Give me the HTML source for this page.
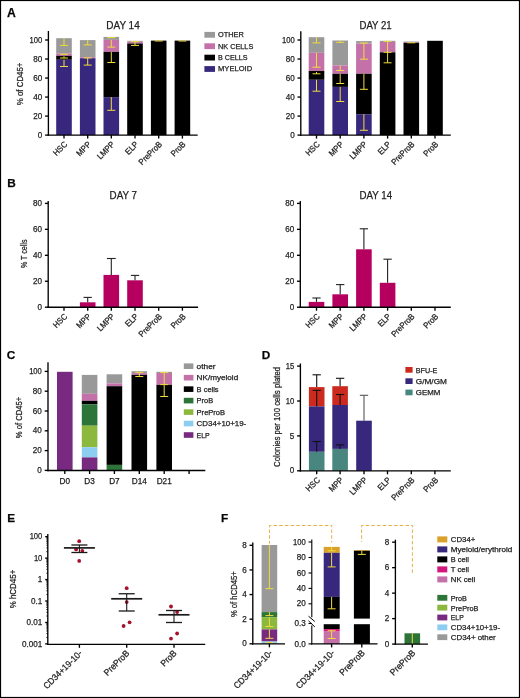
<!DOCTYPE html>
<html><head><meta charset="utf-8"><style>
html,body{margin:0;padding:0;background:#fff;}
body{width:520px;height:698px;overflow:hidden;}
svg{display:block;font-family:"Liberation Sans",sans-serif;will-change:transform;}
text{stroke:#222;stroke-width:0.25px;}
</style></head><body>
<svg width="520" height="698" viewBox="0 0 520 698">
<rect x="0" y="0" width="520" height="698" fill="#fff"/>
<text x="7.00" y="17.00" font-size="12.2" fill="#000" font-weight="bold" >A</text>
<text x="7.20" y="186.90" font-size="11.8" fill="#000" font-weight="bold" >B</text>
<text x="6.80" y="358.80" font-size="11.8" fill="#000" font-weight="bold" >C</text>
<text x="261.80" y="358.80" font-size="11.8" fill="#000" font-weight="bold" >D</text>
<text x="7.20" y="522.30" font-size="11.8" fill="#000" font-weight="bold" >E</text>
<text x="221.00" y="522.20" font-size="11.8" fill="#000" font-weight="bold" >F</text>
<text x="123.00" y="28.60" font-size="10.2" fill="#222" text-anchor="middle" textLength="33.4" lengthAdjust="spacingAndGlyphs" >DAY 14</text>
<rect x="56.20" y="38.20" width="15.60" height="15.40" fill="#999999"/>
<rect x="56.20" y="53.60" width="15.60" height="2.20" fill="#c471aa"/>
<rect x="56.20" y="55.80" width="15.60" height="4.00" fill="#000"/>
<rect x="56.20" y="59.80" width="15.60" height="75.30" fill="#37287e"/>
<line x1="64.00" y1="38.20" x2="64.00" y2="45.40" stroke="#f0dc3c" stroke-width="1.0" />
<line x1="60.00" y1="45.40" x2="68.00" y2="45.40" stroke="#f0dc3c" stroke-width="1.0" />
<line x1="60.00" y1="54.30" x2="68.00" y2="54.30" stroke="#f0dc3c" stroke-width="1.0" />
<line x1="64.00" y1="56.20" x2="64.00" y2="58.00" stroke="#f0dc3c" stroke-width="1.0" />
<line x1="60.00" y1="58.00" x2="68.00" y2="58.00" stroke="#f0dc3c" stroke-width="1.0" />
<line x1="64.00" y1="59.80" x2="64.00" y2="66.50" stroke="#f0dc3c" stroke-width="1.0" />
<line x1="60.00" y1="66.50" x2="68.00" y2="66.50" stroke="#f0dc3c" stroke-width="1.0" />
<rect x="79.90" y="40.10" width="15.60" height="17.10" fill="#999999"/>
<rect x="79.90" y="57.20" width="15.60" height="1.00" fill="#c471aa"/>
<rect x="79.90" y="58.20" width="15.60" height="76.90" fill="#37287e"/>
<line x1="87.70" y1="40.10" x2="87.70" y2="44.90" stroke="#f0dc3c" stroke-width="1.0" />
<line x1="83.70" y1="44.90" x2="91.70" y2="44.90" stroke="#f0dc3c" stroke-width="1.0" />
<line x1="83.70" y1="57.90" x2="91.70" y2="57.90" stroke="#f0dc3c" stroke-width="1.0" />
<line x1="87.70" y1="58.00" x2="87.70" y2="65.10" stroke="#f0dc3c" stroke-width="1.0" />
<line x1="83.70" y1="65.10" x2="91.70" y2="65.10" stroke="#f0dc3c" stroke-width="1.0" />
<rect x="103.50" y="36.90" width="15.60" height="3.00" fill="#999999"/>
<rect x="103.50" y="39.90" width="15.60" height="12.00" fill="#c471aa"/>
<rect x="103.50" y="51.90" width="15.60" height="45.20" fill="#000"/>
<rect x="103.50" y="97.10" width="15.60" height="38.00" fill="#37287e"/>
<line x1="107.30" y1="37.60" x2="115.30" y2="37.60" stroke="#f0dc3c" stroke-width="1.0" />
<line x1="111.30" y1="39.90" x2="111.30" y2="47.10" stroke="#f0dc3c" stroke-width="1.0" />
<line x1="107.30" y1="47.10" x2="115.30" y2="47.10" stroke="#f0dc3c" stroke-width="1.0" />
<line x1="111.30" y1="51.90" x2="111.30" y2="62.50" stroke="#f0dc3c" stroke-width="1.0" />
<line x1="107.30" y1="62.50" x2="115.30" y2="62.50" stroke="#f0dc3c" stroke-width="1.0" />
<line x1="111.30" y1="97.10" x2="111.30" y2="110.30" stroke="#f0dc3c" stroke-width="1.0" />
<line x1="107.30" y1="110.30" x2="115.30" y2="110.30" stroke="#f0dc3c" stroke-width="1.0" />
<rect x="127.20" y="40.80" width="15.60" height="0.90" fill="#999999"/>
<rect x="127.20" y="41.70" width="15.60" height="1.80" fill="#c471aa"/>
<rect x="127.20" y="43.50" width="15.60" height="91.60" fill="#000"/>
<line x1="135.00" y1="41.70" x2="135.00" y2="45.40" stroke="#f0dc3c" stroke-width="1.0" />
<line x1="131.00" y1="45.40" x2="139.00" y2="45.40" stroke="#f0dc3c" stroke-width="1.0" />
<line x1="131.00" y1="41.70" x2="139.00" y2="41.70" stroke="#f0dc3c" stroke-width="1.0" />
<rect x="150.90" y="40.60" width="15.60" height="94.50" fill="#000"/>
<line x1="154.70" y1="41.00" x2="162.70" y2="41.00" stroke="#f0dc3c" stroke-width="1.0" />
<rect x="174.60" y="40.60" width="15.60" height="94.50" fill="#000"/>
<line x1="178.40" y1="41.00" x2="186.40" y2="41.00" stroke="#f0dc3c" stroke-width="1.0" />
<line x1="48.40" y1="31.00" x2="48.40" y2="135.78" stroke="#000" stroke-width="1.35" />
<line x1="45.10" y1="135.10" x2="48.40" y2="135.10" stroke="#000" stroke-width="1.35" />
<text x="42.25" y="137.70" font-size="9.0" fill="#222" text-anchor="end" textLength="4.5" lengthAdjust="spacingAndGlyphs" >0</text>
<line x1="45.10" y1="116.08" x2="48.40" y2="116.08" stroke="#000" stroke-width="1.35" />
<text x="42.25" y="118.68" font-size="9.0" fill="#222" text-anchor="end" textLength="9.01" lengthAdjust="spacingAndGlyphs" >20</text>
<line x1="45.10" y1="97.06" x2="48.40" y2="97.06" stroke="#000" stroke-width="1.35" />
<text x="42.25" y="99.66" font-size="9.0" fill="#222" text-anchor="end" textLength="9.01" lengthAdjust="spacingAndGlyphs" >40</text>
<line x1="45.10" y1="78.04" x2="48.40" y2="78.04" stroke="#000" stroke-width="1.35" />
<text x="42.25" y="80.64" font-size="9.0" fill="#222" text-anchor="end" textLength="9.01" lengthAdjust="spacingAndGlyphs" >60</text>
<line x1="45.10" y1="59.02" x2="48.40" y2="59.02" stroke="#000" stroke-width="1.35" />
<text x="42.25" y="61.62" font-size="9.0" fill="#222" text-anchor="end" textLength="9.01" lengthAdjust="spacingAndGlyphs" >80</text>
<line x1="45.10" y1="40.00" x2="48.40" y2="40.00" stroke="#000" stroke-width="1.35" />
<text x="42.25" y="42.60" font-size="9.0" fill="#222" text-anchor="end" textLength="12.7" lengthAdjust="spacingAndGlyphs" >100</text>
<line x1="47.73" y1="135.10" x2="197.70" y2="135.10" stroke="#000" stroke-width="1.35" />
<line x1="64.00" y1="135.10" x2="64.00" y2="138.60" stroke="#000" stroke-width="1.35" />
<line x1="87.70" y1="135.10" x2="87.70" y2="138.60" stroke="#000" stroke-width="1.35" />
<line x1="111.30" y1="135.10" x2="111.30" y2="138.60" stroke="#000" stroke-width="1.35" />
<line x1="135.00" y1="135.10" x2="135.00" y2="138.60" stroke="#000" stroke-width="1.35" />
<line x1="158.70" y1="135.10" x2="158.70" y2="138.60" stroke="#000" stroke-width="1.35" />
<line x1="182.40" y1="135.10" x2="182.40" y2="138.60" stroke="#000" stroke-width="1.35" />
<text x="67.85" y="144.95" font-size="8.5" fill="#222" text-anchor="end" textLength="16.15" lengthAdjust="spacingAndGlyphs" transform="rotate(-45 67.85 144.95)" >HSC</text>
<text x="91.55" y="144.95" font-size="8.5" fill="#222" text-anchor="end" textLength="16.58" lengthAdjust="spacingAndGlyphs" transform="rotate(-45 91.55 144.95)" >MPP</text>
<text x="115.15" y="144.95" font-size="8.5" fill="#222" text-anchor="end" textLength="20.83" lengthAdjust="spacingAndGlyphs" transform="rotate(-45 115.15 144.95)" >LMPP</text>
<text x="138.85" y="144.95" font-size="8.5" fill="#222" text-anchor="end" textLength="14.46" lengthAdjust="spacingAndGlyphs" transform="rotate(-45 138.85 144.95)" >ELP</text>
<text x="162.55" y="144.95" font-size="8.5" fill="#222" text-anchor="end" textLength="28.91" lengthAdjust="spacingAndGlyphs" transform="rotate(-45 162.55 144.95)" >PreProB</text>
<text x="186.25" y="144.95" font-size="8.5" fill="#222" text-anchor="end" textLength="17.01" lengthAdjust="spacingAndGlyphs" transform="rotate(-45 186.25 144.95)" >ProB</text>
<text x="22.60" y="83.90" font-size="9" fill="#222" text-anchor="middle" textLength="42.6" lengthAdjust="spacingAndGlyphs" transform="rotate(-90 22.60 83.90)" >% of CD45+</text>
<rect x="204.40" y="31.90" width="10.60" height="5.80" fill="#999999"/>
<text x="218.00" y="37.20" font-size="7.5" fill="#222" textLength="25.8" lengthAdjust="spacingAndGlyphs" >OTHER</text>
<rect x="204.40" y="43.30" width="10.60" height="5.80" fill="#c471aa"/>
<text x="218.00" y="48.60" font-size="7.5" fill="#222" textLength="35.3" lengthAdjust="spacingAndGlyphs" >NK CELLS</text>
<rect x="204.40" y="54.70" width="10.60" height="5.80" fill="#000"/>
<text x="218.00" y="60.00" font-size="7.5" fill="#222" textLength="29.6" lengthAdjust="spacingAndGlyphs" >B CELLS</text>
<rect x="204.40" y="66.10" width="10.60" height="5.80" fill="#37287e"/>
<text x="218.00" y="71.40" font-size="7.5" fill="#222" textLength="34.2" lengthAdjust="spacingAndGlyphs" >MYELOID</text>
<text x="375.60" y="28.50" font-size="10.2" fill="#222" text-anchor="middle" textLength="32.2" lengthAdjust="spacingAndGlyphs" >DAY 21</text>
<rect x="308.70" y="37.20" width="15.60" height="15.60" fill="#999999"/>
<rect x="308.70" y="52.80" width="15.60" height="18.20" fill="#c471aa"/>
<rect x="308.70" y="71.00" width="15.60" height="8.80" fill="#000"/>
<rect x="308.70" y="79.80" width="15.60" height="55.30" fill="#37287e"/>
<line x1="316.50" y1="37.20" x2="316.50" y2="42.90" stroke="#f0dc3c" stroke-width="1.0" />
<line x1="312.50" y1="42.90" x2="320.50" y2="42.90" stroke="#f0dc3c" stroke-width="1.0" />
<line x1="316.50" y1="52.80" x2="316.50" y2="67.20" stroke="#f0dc3c" stroke-width="1.0" />
<line x1="312.50" y1="67.20" x2="320.50" y2="67.20" stroke="#f0dc3c" stroke-width="1.0" />
<line x1="316.50" y1="72.00" x2="316.50" y2="73.80" stroke="#f0dc3c" stroke-width="1.0" />
<line x1="312.50" y1="73.80" x2="320.50" y2="73.80" stroke="#f0dc3c" stroke-width="1.0" />
<line x1="316.50" y1="79.80" x2="316.50" y2="91.20" stroke="#f0dc3c" stroke-width="1.0" />
<line x1="312.50" y1="91.20" x2="320.50" y2="91.20" stroke="#f0dc3c" stroke-width="1.0" />
<rect x="332.40" y="40.50" width="15.60" height="24.90" fill="#999999"/>
<rect x="332.40" y="65.40" width="15.60" height="8.40" fill="#c471aa"/>
<rect x="332.40" y="73.80" width="15.60" height="13.10" fill="#000"/>
<rect x="332.40" y="86.90" width="15.60" height="48.20" fill="#37287e"/>
<line x1="340.20" y1="40.50" x2="340.20" y2="42.30" stroke="#f0dc3c" stroke-width="1.0" />
<line x1="336.20" y1="42.30" x2="344.20" y2="42.30" stroke="#f0dc3c" stroke-width="1.0" />
<line x1="340.20" y1="65.40" x2="340.20" y2="70.50" stroke="#f0dc3c" stroke-width="1.0" />
<line x1="336.20" y1="70.50" x2="344.20" y2="70.50" stroke="#f0dc3c" stroke-width="1.0" />
<line x1="340.20" y1="73.80" x2="340.20" y2="83.50" stroke="#f0dc3c" stroke-width="1.0" />
<line x1="336.20" y1="83.50" x2="344.20" y2="83.50" stroke="#f0dc3c" stroke-width="1.0" />
<line x1="340.20" y1="86.90" x2="340.20" y2="101.50" stroke="#f0dc3c" stroke-width="1.0" />
<line x1="336.20" y1="101.50" x2="344.20" y2="101.50" stroke="#f0dc3c" stroke-width="1.0" />
<rect x="356.10" y="41.10" width="15.60" height="2.40" fill="#999999"/>
<rect x="356.10" y="43.50" width="15.60" height="30.30" fill="#c471aa"/>
<rect x="356.10" y="73.80" width="15.60" height="40.40" fill="#000"/>
<rect x="356.10" y="114.20" width="15.60" height="20.90" fill="#37287e"/>
<line x1="359.90" y1="43.00" x2="367.90" y2="43.00" stroke="#f0dc3c" stroke-width="1.0" />
<line x1="363.90" y1="43.00" x2="363.90" y2="59.20" stroke="#f0dc3c" stroke-width="1.0" />
<line x1="359.90" y1="59.20" x2="367.90" y2="59.20" stroke="#f0dc3c" stroke-width="1.0" />
<line x1="363.90" y1="73.80" x2="363.90" y2="89.30" stroke="#f0dc3c" stroke-width="1.0" />
<line x1="359.90" y1="89.30" x2="367.90" y2="89.30" stroke="#f0dc3c" stroke-width="1.0" />
<line x1="363.90" y1="114.20" x2="363.90" y2="130.30" stroke="#f0dc3c" stroke-width="1.0" />
<line x1="359.90" y1="130.30" x2="367.90" y2="130.30" stroke="#f0dc3c" stroke-width="1.0" />
<rect x="379.80" y="40.80" width="15.60" height="1.20" fill="#999999"/>
<rect x="379.80" y="42.00" width="15.60" height="10.30" fill="#c471aa"/>
<rect x="379.80" y="52.30" width="15.60" height="82.80" fill="#000"/>
<line x1="383.60" y1="41.30" x2="391.60" y2="41.30" stroke="#f0dc3c" stroke-width="1.0" />
<line x1="387.60" y1="41.30" x2="387.60" y2="52.30" stroke="#f0dc3c" stroke-width="1.0" />
<line x1="383.60" y1="52.30" x2="391.60" y2="52.30" stroke="#f0dc3c" stroke-width="1.0" />
<line x1="387.60" y1="52.30" x2="387.60" y2="62.80" stroke="#f0dc3c" stroke-width="1.0" />
<line x1="383.60" y1="62.80" x2="391.60" y2="62.80" stroke="#f0dc3c" stroke-width="1.0" />
<rect x="403.50" y="41.50" width="15.60" height="0.70" fill="#999999"/>
<rect x="403.50" y="42.20" width="15.60" height="0.60" fill="#c471aa"/>
<rect x="403.50" y="42.80" width="15.60" height="92.30" fill="#000"/>
<line x1="407.30" y1="42.80" x2="415.30" y2="42.80" stroke="#f0dc3c" stroke-width="1.0" />
<rect x="427.20" y="40.80" width="15.60" height="94.30" fill="#000"/>
<line x1="300.80" y1="31.20" x2="300.80" y2="135.78" stroke="#000" stroke-width="1.35" />
<line x1="297.50" y1="135.10" x2="300.80" y2="135.10" stroke="#000" stroke-width="1.35" />
<text x="294.65" y="137.70" font-size="9.0" fill="#222" text-anchor="end" textLength="4.5" lengthAdjust="spacingAndGlyphs" >0</text>
<line x1="297.50" y1="116.08" x2="300.80" y2="116.08" stroke="#000" stroke-width="1.35" />
<text x="294.65" y="118.68" font-size="9.0" fill="#222" text-anchor="end" textLength="9.01" lengthAdjust="spacingAndGlyphs" >20</text>
<line x1="297.50" y1="97.06" x2="300.80" y2="97.06" stroke="#000" stroke-width="1.35" />
<text x="294.65" y="99.66" font-size="9.0" fill="#222" text-anchor="end" textLength="9.01" lengthAdjust="spacingAndGlyphs" >40</text>
<line x1="297.50" y1="78.04" x2="300.80" y2="78.04" stroke="#000" stroke-width="1.35" />
<text x="294.65" y="80.64" font-size="9.0" fill="#222" text-anchor="end" textLength="9.01" lengthAdjust="spacingAndGlyphs" >60</text>
<line x1="297.50" y1="59.02" x2="300.80" y2="59.02" stroke="#000" stroke-width="1.35" />
<text x="294.65" y="61.62" font-size="9.0" fill="#222" text-anchor="end" textLength="9.01" lengthAdjust="spacingAndGlyphs" >80</text>
<line x1="297.50" y1="40.00" x2="300.80" y2="40.00" stroke="#000" stroke-width="1.35" />
<text x="294.65" y="42.60" font-size="9.0" fill="#222" text-anchor="end" textLength="12.7" lengthAdjust="spacingAndGlyphs" >100</text>
<line x1="300.12" y1="135.10" x2="450.80" y2="135.10" stroke="#000" stroke-width="1.35" />
<line x1="316.50" y1="135.10" x2="316.50" y2="138.60" stroke="#000" stroke-width="1.35" />
<line x1="340.20" y1="135.10" x2="340.20" y2="138.60" stroke="#000" stroke-width="1.35" />
<line x1="363.90" y1="135.10" x2="363.90" y2="138.60" stroke="#000" stroke-width="1.35" />
<line x1="387.60" y1="135.10" x2="387.60" y2="138.60" stroke="#000" stroke-width="1.35" />
<line x1="411.30" y1="135.10" x2="411.30" y2="138.60" stroke="#000" stroke-width="1.35" />
<line x1="435.00" y1="135.10" x2="435.00" y2="138.60" stroke="#000" stroke-width="1.35" />
<text x="320.35" y="144.95" font-size="8.5" fill="#222" text-anchor="end" textLength="16.15" lengthAdjust="spacingAndGlyphs" transform="rotate(-45 320.35 144.95)" >HSC</text>
<text x="344.05" y="144.95" font-size="8.5" fill="#222" text-anchor="end" textLength="16.58" lengthAdjust="spacingAndGlyphs" transform="rotate(-45 344.05 144.95)" >MPP</text>
<text x="367.75" y="144.95" font-size="8.5" fill="#222" text-anchor="end" textLength="20.83" lengthAdjust="spacingAndGlyphs" transform="rotate(-45 367.75 144.95)" >LMPP</text>
<text x="391.45" y="144.95" font-size="8.5" fill="#222" text-anchor="end" textLength="14.46" lengthAdjust="spacingAndGlyphs" transform="rotate(-45 391.45 144.95)" >ELP</text>
<text x="415.15" y="144.95" font-size="8.5" fill="#222" text-anchor="end" textLength="28.91" lengthAdjust="spacingAndGlyphs" transform="rotate(-45 415.15 144.95)" >PreProB</text>
<text x="438.85" y="144.95" font-size="8.5" fill="#222" text-anchor="end" textLength="17.01" lengthAdjust="spacingAndGlyphs" transform="rotate(-45 438.85 144.95)" >ProB</text>
<text x="123.30" y="198.50" font-size="10.2" fill="#222" text-anchor="middle" textLength="27.4" lengthAdjust="spacingAndGlyphs" >DAY 7</text>
<text x="375.80" y="198.50" font-size="10.2" fill="#222" text-anchor="middle" textLength="32.6" lengthAdjust="spacingAndGlyphs" >DAY 14</text>
<rect x="79.90" y="302.30" width="15.60" height="4.90" fill="#b60060"/>
<line x1="87.70" y1="302.30" x2="87.70" y2="297.40" stroke="#222" stroke-width="1.1" />
<line x1="83.55" y1="297.40" x2="91.85" y2="297.40" stroke="#222" stroke-width="1.1" />
<rect x="103.50" y="274.90" width="15.60" height="32.30" fill="#b60060"/>
<line x1="111.30" y1="274.90" x2="111.30" y2="258.50" stroke="#222" stroke-width="1.1" />
<line x1="106.90" y1="258.50" x2="115.70" y2="258.50" stroke="#222" stroke-width="1.1" />
<rect x="127.20" y="280.30" width="15.60" height="26.90" fill="#b60060"/>
<line x1="135.00" y1="280.30" x2="135.00" y2="275.40" stroke="#222" stroke-width="1.1" />
<line x1="130.85" y1="275.40" x2="139.15" y2="275.40" stroke="#222" stroke-width="1.1" />
<line x1="48.20" y1="201.00" x2="48.20" y2="307.88" stroke="#000" stroke-width="1.35" />
<line x1="44.90" y1="307.20" x2="48.20" y2="307.20" stroke="#000" stroke-width="1.35" />
<text x="42.05" y="309.80" font-size="9.0" fill="#222" text-anchor="end" textLength="4.5" lengthAdjust="spacingAndGlyphs" >0</text>
<line x1="44.90" y1="281.25" x2="48.20" y2="281.25" stroke="#000" stroke-width="1.35" />
<text x="42.05" y="283.85" font-size="9.0" fill="#222" text-anchor="end" textLength="9.01" lengthAdjust="spacingAndGlyphs" >20</text>
<line x1="44.90" y1="255.30" x2="48.20" y2="255.30" stroke="#000" stroke-width="1.35" />
<text x="42.05" y="257.90" font-size="9.0" fill="#222" text-anchor="end" textLength="9.01" lengthAdjust="spacingAndGlyphs" >40</text>
<line x1="44.90" y1="229.35" x2="48.20" y2="229.35" stroke="#000" stroke-width="1.35" />
<text x="42.05" y="231.95" font-size="9.0" fill="#222" text-anchor="end" textLength="9.01" lengthAdjust="spacingAndGlyphs" >60</text>
<line x1="44.90" y1="203.40" x2="48.20" y2="203.40" stroke="#000" stroke-width="1.35" />
<text x="42.05" y="206.00" font-size="9.0" fill="#222" text-anchor="end" textLength="9.01" lengthAdjust="spacingAndGlyphs" >80</text>
<line x1="47.53" y1="307.20" x2="198.10" y2="307.20" stroke="#000" stroke-width="1.35" />
<line x1="64.00" y1="307.20" x2="64.00" y2="310.70" stroke="#000" stroke-width="1.35" />
<line x1="87.70" y1="307.20" x2="87.70" y2="310.70" stroke="#000" stroke-width="1.35" />
<line x1="111.30" y1="307.20" x2="111.30" y2="310.70" stroke="#000" stroke-width="1.35" />
<line x1="135.00" y1="307.20" x2="135.00" y2="310.70" stroke="#000" stroke-width="1.35" />
<line x1="158.70" y1="307.20" x2="158.70" y2="310.70" stroke="#000" stroke-width="1.35" />
<line x1="182.40" y1="307.20" x2="182.40" y2="310.70" stroke="#000" stroke-width="1.35" />
<text x="67.85" y="317.05" font-size="8.5" fill="#222" text-anchor="end" textLength="16.15" lengthAdjust="spacingAndGlyphs" transform="rotate(-45 67.85 317.05)" >HSC</text>
<text x="91.55" y="317.05" font-size="8.5" fill="#222" text-anchor="end" textLength="16.58" lengthAdjust="spacingAndGlyphs" transform="rotate(-45 91.55 317.05)" >MPP</text>
<text x="115.15" y="317.05" font-size="8.5" fill="#222" text-anchor="end" textLength="20.83" lengthAdjust="spacingAndGlyphs" transform="rotate(-45 115.15 317.05)" >LMPP</text>
<text x="138.85" y="317.05" font-size="8.5" fill="#222" text-anchor="end" textLength="14.46" lengthAdjust="spacingAndGlyphs" transform="rotate(-45 138.85 317.05)" >ELP</text>
<text x="162.55" y="317.05" font-size="8.5" fill="#222" text-anchor="end" textLength="28.91" lengthAdjust="spacingAndGlyphs" transform="rotate(-45 162.55 317.05)" >PreProB</text>
<text x="186.25" y="317.05" font-size="8.5" fill="#222" text-anchor="end" textLength="17.01" lengthAdjust="spacingAndGlyphs" transform="rotate(-45 186.25 317.05)" >ProB</text>
<text x="26.90" y="253.80" font-size="9" fill="#222" text-anchor="middle" textLength="28.5" lengthAdjust="spacingAndGlyphs" transform="rotate(-90 26.90 253.80)" >% T cells</text>
<rect x="308.70" y="301.90" width="15.60" height="5.30" fill="#b60060"/>
<line x1="316.50" y1="301.90" x2="316.50" y2="298.00" stroke="#222" stroke-width="1.1" />
<line x1="312.35" y1="298.00" x2="320.65" y2="298.00" stroke="#222" stroke-width="1.1" />
<rect x="332.40" y="294.30" width="15.60" height="12.90" fill="#b60060"/>
<line x1="340.20" y1="294.30" x2="340.20" y2="284.60" stroke="#222" stroke-width="1.1" />
<line x1="336.05" y1="284.60" x2="344.35" y2="284.60" stroke="#222" stroke-width="1.1" />
<rect x="356.10" y="249.30" width="15.60" height="57.90" fill="#b60060"/>
<line x1="363.90" y1="249.30" x2="363.90" y2="228.80" stroke="#222" stroke-width="1.1" />
<line x1="359.75" y1="228.80" x2="368.05" y2="228.80" stroke="#222" stroke-width="1.1" />
<rect x="379.80" y="282.80" width="15.60" height="24.40" fill="#b60060"/>
<line x1="387.60" y1="282.80" x2="387.60" y2="259.20" stroke="#222" stroke-width="1.1" />
<line x1="383.45" y1="259.20" x2="391.75" y2="259.20" stroke="#222" stroke-width="1.1" />
<line x1="300.30" y1="201.00" x2="300.30" y2="307.88" stroke="#000" stroke-width="1.35" />
<line x1="297.00" y1="307.20" x2="300.30" y2="307.20" stroke="#000" stroke-width="1.35" />
<text x="294.15" y="309.80" font-size="9.0" fill="#222" text-anchor="end" textLength="4.5" lengthAdjust="spacingAndGlyphs" >0</text>
<line x1="297.00" y1="281.25" x2="300.30" y2="281.25" stroke="#000" stroke-width="1.35" />
<text x="294.15" y="283.85" font-size="9.0" fill="#222" text-anchor="end" textLength="9.01" lengthAdjust="spacingAndGlyphs" >20</text>
<line x1="297.00" y1="255.30" x2="300.30" y2="255.30" stroke="#000" stroke-width="1.35" />
<text x="294.15" y="257.90" font-size="9.0" fill="#222" text-anchor="end" textLength="9.01" lengthAdjust="spacingAndGlyphs" >40</text>
<line x1="297.00" y1="229.35" x2="300.30" y2="229.35" stroke="#000" stroke-width="1.35" />
<text x="294.15" y="231.95" font-size="9.0" fill="#222" text-anchor="end" textLength="9.01" lengthAdjust="spacingAndGlyphs" >60</text>
<line x1="297.00" y1="203.40" x2="300.30" y2="203.40" stroke="#000" stroke-width="1.35" />
<text x="294.15" y="206.00" font-size="9.0" fill="#222" text-anchor="end" textLength="9.01" lengthAdjust="spacingAndGlyphs" >80</text>
<line x1="299.62" y1="307.20" x2="450.80" y2="307.20" stroke="#000" stroke-width="1.35" />
<line x1="316.50" y1="307.20" x2="316.50" y2="310.70" stroke="#000" stroke-width="1.35" />
<line x1="340.20" y1="307.20" x2="340.20" y2="310.70" stroke="#000" stroke-width="1.35" />
<line x1="363.90" y1="307.20" x2="363.90" y2="310.70" stroke="#000" stroke-width="1.35" />
<line x1="387.60" y1="307.20" x2="387.60" y2="310.70" stroke="#000" stroke-width="1.35" />
<line x1="411.30" y1="307.20" x2="411.30" y2="310.70" stroke="#000" stroke-width="1.35" />
<line x1="435.00" y1="307.20" x2="435.00" y2="310.70" stroke="#000" stroke-width="1.35" />
<text x="320.35" y="317.05" font-size="8.5" fill="#222" text-anchor="end" textLength="16.15" lengthAdjust="spacingAndGlyphs" transform="rotate(-45 320.35 317.05)" >HSC</text>
<text x="344.05" y="317.05" font-size="8.5" fill="#222" text-anchor="end" textLength="16.58" lengthAdjust="spacingAndGlyphs" transform="rotate(-45 344.05 317.05)" >MPP</text>
<text x="367.75" y="317.05" font-size="8.5" fill="#222" text-anchor="end" textLength="20.83" lengthAdjust="spacingAndGlyphs" transform="rotate(-45 367.75 317.05)" >LMPP</text>
<text x="391.45" y="317.05" font-size="8.5" fill="#222" text-anchor="end" textLength="14.46" lengthAdjust="spacingAndGlyphs" transform="rotate(-45 391.45 317.05)" >ELP</text>
<text x="415.15" y="317.05" font-size="8.5" fill="#222" text-anchor="end" textLength="28.91" lengthAdjust="spacingAndGlyphs" transform="rotate(-45 415.15 317.05)" >PreProB</text>
<text x="438.85" y="317.05" font-size="8.5" fill="#222" text-anchor="end" textLength="17.01" lengthAdjust="spacingAndGlyphs" transform="rotate(-45 438.85 317.05)" >ProB</text>
<rect x="57.00" y="371.80" width="15.60" height="98.70" fill="#772a80"/>
<rect x="81.80" y="374.90" width="15.60" height="18.90" fill="#999999"/>
<rect x="81.80" y="393.80" width="15.60" height="7.00" fill="#c471aa"/>
<rect x="81.80" y="400.80" width="15.60" height="3.50" fill="#000"/>
<rect x="81.80" y="404.30" width="15.60" height="21.40" fill="#2c7437"/>
<rect x="81.80" y="425.70" width="15.60" height="21.50" fill="#8cb83e"/>
<rect x="81.80" y="447.20" width="15.60" height="10.20" fill="#8ecdf2"/>
<rect x="81.80" y="457.40" width="15.60" height="13.10" fill="#772a80"/>
<rect x="106.60" y="374.30" width="15.60" height="9.10" fill="#999999"/>
<rect x="106.60" y="383.40" width="15.60" height="2.80" fill="#c471aa"/>
<rect x="106.60" y="386.20" width="15.60" height="78.70" fill="#000"/>
<rect x="106.60" y="464.90" width="15.60" height="5.60" fill="#2c7437"/>
<rect x="131.50" y="371.20" width="15.60" height="1.90" fill="#999999"/>
<rect x="131.50" y="373.10" width="15.60" height="1.80" fill="#c471aa"/>
<rect x="131.50" y="374.90" width="15.60" height="95.60" fill="#000"/>
<line x1="139.30" y1="372.30" x2="139.30" y2="376.50" stroke="#f0dc3c" stroke-width="1.0" />
<line x1="135.30" y1="376.50" x2="143.30" y2="376.50" stroke="#f0dc3c" stroke-width="1.0" />
<line x1="135.30" y1="372.30" x2="143.30" y2="372.30" stroke="#f0dc3c" stroke-width="1.0" />
<rect x="156.40" y="371.80" width="15.60" height="1.20" fill="#999999"/>
<rect x="156.40" y="373.00" width="15.60" height="11.90" fill="#c471aa"/>
<rect x="156.40" y="384.90" width="15.60" height="85.60" fill="#000"/>
<line x1="160.20" y1="372.60" x2="168.20" y2="372.60" stroke="#f0dc3c" stroke-width="1.0" />
<line x1="164.20" y1="372.60" x2="164.20" y2="384.60" stroke="#f0dc3c" stroke-width="1.0" />
<line x1="160.20" y1="384.60" x2="168.20" y2="384.60" stroke="#f0dc3c" stroke-width="1.0" />
<line x1="164.20" y1="384.60" x2="164.20" y2="396.50" stroke="#f0dc3c" stroke-width="1.0" />
<line x1="160.20" y1="396.50" x2="168.20" y2="396.50" stroke="#f0dc3c" stroke-width="1.0" />
<line x1="48.00" y1="362.20" x2="48.00" y2="471.18" stroke="#000" stroke-width="1.35" />
<line x1="44.70" y1="470.40" x2="48.00" y2="470.40" stroke="#000" stroke-width="1.35" />
<text x="41.85" y="473.00" font-size="9.0" fill="#222" text-anchor="end" textLength="4.5" lengthAdjust="spacingAndGlyphs" >0</text>
<line x1="44.70" y1="450.60" x2="48.00" y2="450.60" stroke="#000" stroke-width="1.35" />
<text x="41.85" y="453.20" font-size="9.0" fill="#222" text-anchor="end" textLength="9.01" lengthAdjust="spacingAndGlyphs" >20</text>
<line x1="44.70" y1="430.80" x2="48.00" y2="430.80" stroke="#000" stroke-width="1.35" />
<text x="41.85" y="433.40" font-size="9.0" fill="#222" text-anchor="end" textLength="9.01" lengthAdjust="spacingAndGlyphs" >40</text>
<line x1="44.70" y1="411.00" x2="48.00" y2="411.00" stroke="#000" stroke-width="1.35" />
<text x="41.85" y="413.60" font-size="9.0" fill="#222" text-anchor="end" textLength="9.01" lengthAdjust="spacingAndGlyphs" >60</text>
<line x1="44.70" y1="391.20" x2="48.00" y2="391.20" stroke="#000" stroke-width="1.35" />
<text x="41.85" y="393.80" font-size="9.0" fill="#222" text-anchor="end" textLength="9.01" lengthAdjust="spacingAndGlyphs" >80</text>
<line x1="44.70" y1="371.40" x2="48.00" y2="371.40" stroke="#000" stroke-width="1.35" />
<text x="41.85" y="374.00" font-size="9.0" fill="#222" text-anchor="end" textLength="12.7" lengthAdjust="spacingAndGlyphs" >100</text>
<line x1="47.33" y1="470.50" x2="205.30" y2="470.50" stroke="#000" stroke-width="1.35" />
<line x1="64.80" y1="470.50" x2="64.80" y2="474.00" stroke="#000" stroke-width="1.35" />
<line x1="89.60" y1="470.50" x2="89.60" y2="474.00" stroke="#000" stroke-width="1.35" />
<line x1="114.40" y1="470.50" x2="114.40" y2="474.00" stroke="#000" stroke-width="1.35" />
<line x1="139.30" y1="470.50" x2="139.30" y2="474.00" stroke="#000" stroke-width="1.35" />
<line x1="164.20" y1="470.50" x2="164.20" y2="474.00" stroke="#000" stroke-width="1.35" />
<line x1="189.10" y1="470.50" x2="189.10" y2="474.00" stroke="#000" stroke-width="1.35" />
<text x="64.80" y="484.10" font-size="8.2" fill="#222" text-anchor="middle" >D0</text>
<text x="89.60" y="484.10" font-size="8.2" fill="#222" text-anchor="middle" >D3</text>
<text x="114.40" y="484.10" font-size="8.2" fill="#222" text-anchor="middle" >D7</text>
<text x="139.30" y="484.10" font-size="8.2" fill="#222" text-anchor="middle" >D14</text>
<text x="164.20" y="484.10" font-size="8.2" fill="#222" text-anchor="middle" >D21</text>
<text x="22.40" y="417.50" font-size="9" fill="#222" text-anchor="middle" textLength="41.4" lengthAdjust="spacingAndGlyphs" transform="rotate(-90 22.40 417.50)" >% of CD45+</text>
<rect x="183.80" y="363.40" width="9.60" height="5.60" fill="#999999"/>
<text x="196.60" y="369.00" font-size="7.5" fill="#222" textLength="19.0" lengthAdjust="spacingAndGlyphs" >other</text>
<rect x="183.80" y="374.87" width="9.60" height="5.60" fill="#c471aa"/>
<text x="196.60" y="380.47" font-size="7.5" fill="#222" textLength="41.6" lengthAdjust="spacingAndGlyphs" >NK/myeloid</text>
<rect x="183.80" y="386.34" width="9.60" height="5.60" fill="#000"/>
<text x="196.60" y="391.94" font-size="7.5" fill="#222" textLength="22.0" lengthAdjust="spacingAndGlyphs" >B cells</text>
<rect x="183.80" y="397.81" width="9.60" height="5.60" fill="#2c7437"/>
<text x="196.60" y="403.41" font-size="7.5" fill="#222" textLength="16.5" lengthAdjust="spacingAndGlyphs" >ProB</text>
<rect x="183.80" y="409.28" width="9.60" height="5.60" fill="#8cb83e"/>
<text x="196.60" y="414.88" font-size="7.5" fill="#222" textLength="28.5" lengthAdjust="spacingAndGlyphs" >PreProB</text>
<rect x="183.80" y="420.75" width="9.60" height="5.60" fill="#8ecdf2"/>
<text x="196.60" y="426.35" font-size="7.5" fill="#222" textLength="49.6" lengthAdjust="spacingAndGlyphs" >CD34+10+19-</text>
<rect x="183.80" y="432.22" width="9.60" height="5.60" fill="#772a80"/>
<text x="196.60" y="437.82" font-size="7.5" fill="#222" textLength="13.1" lengthAdjust="spacingAndGlyphs" >ELP</text>
<rect x="308.90" y="387.10" width="15.60" height="19.30" fill="#cc2a1e"/>
<rect x="308.90" y="406.40" width="15.60" height="45.40" fill="#37287e"/>
<rect x="308.90" y="451.80" width="15.60" height="19.00" fill="#48867f"/>
<line x1="316.70" y1="387.10" x2="316.70" y2="374.80" stroke="#111" stroke-width="1.1" />
<line x1="312.55" y1="374.80" x2="320.85" y2="374.80" stroke="#111" stroke-width="1.1" />
<line x1="316.70" y1="406.40" x2="316.70" y2="390.40" stroke="#111" stroke-width="1.1" />
<line x1="312.55" y1="390.40" x2="320.85" y2="390.40" stroke="#111" stroke-width="1.1" />
<line x1="316.70" y1="451.80" x2="316.70" y2="441.50" stroke="#111" stroke-width="1.1" />
<line x1="312.55" y1="441.50" x2="320.85" y2="441.50" stroke="#111" stroke-width="1.1" />
<rect x="332.30" y="386.20" width="15.60" height="18.80" fill="#cc2a1e"/>
<rect x="332.30" y="405.00" width="15.60" height="43.90" fill="#37287e"/>
<rect x="332.30" y="448.90" width="15.60" height="21.90" fill="#48867f"/>
<line x1="340.10" y1="386.20" x2="340.10" y2="378.30" stroke="#111" stroke-width="1.1" />
<line x1="335.95" y1="378.30" x2="344.25" y2="378.30" stroke="#111" stroke-width="1.1" />
<line x1="340.10" y1="405.00" x2="340.10" y2="394.50" stroke="#111" stroke-width="1.1" />
<line x1="335.95" y1="394.50" x2="344.25" y2="394.50" stroke="#111" stroke-width="1.1" />
<line x1="340.10" y1="448.90" x2="340.10" y2="444.90" stroke="#111" stroke-width="1.1" />
<line x1="335.95" y1="444.90" x2="344.25" y2="444.90" stroke="#111" stroke-width="1.1" />
<rect x="356.20" y="420.70" width="15.60" height="50.10" fill="#37287e"/>
<line x1="364.00" y1="420.70" x2="364.00" y2="395.30" stroke="#555" stroke-width="1.1" />
<line x1="359.85" y1="395.30" x2="368.15" y2="395.30" stroke="#555" stroke-width="1.1" />
<line x1="300.40" y1="363.50" x2="300.40" y2="471.48" stroke="#000" stroke-width="1.35" />
<line x1="297.10" y1="470.80" x2="300.40" y2="470.80" stroke="#000" stroke-width="1.35" />
<text x="294.25" y="473.40" font-size="9.0" fill="#222" text-anchor="end" textLength="4.5" lengthAdjust="spacingAndGlyphs" >0</text>
<line x1="297.10" y1="435.90" x2="300.40" y2="435.90" stroke="#000" stroke-width="1.35" />
<text x="294.25" y="438.50" font-size="9.0" fill="#222" text-anchor="end" textLength="4.5" lengthAdjust="spacingAndGlyphs" >5</text>
<line x1="297.10" y1="401.00" x2="300.40" y2="401.00" stroke="#000" stroke-width="1.35" />
<text x="294.25" y="403.60" font-size="9.0" fill="#222" text-anchor="end" textLength="8.47" lengthAdjust="spacingAndGlyphs" >10</text>
<line x1="297.10" y1="366.10" x2="300.40" y2="366.10" stroke="#000" stroke-width="1.35" />
<text x="294.25" y="368.70" font-size="9.0" fill="#222" text-anchor="end" textLength="8.47" lengthAdjust="spacingAndGlyphs" >15</text>
<line x1="299.72" y1="470.80" x2="450.80" y2="470.80" stroke="#000" stroke-width="1.35" />
<line x1="316.70" y1="470.80" x2="316.70" y2="474.30" stroke="#000" stroke-width="1.35" />
<line x1="340.10" y1="470.80" x2="340.10" y2="474.30" stroke="#000" stroke-width="1.35" />
<line x1="364.00" y1="470.80" x2="364.00" y2="474.30" stroke="#000" stroke-width="1.35" />
<line x1="387.50" y1="470.80" x2="387.50" y2="474.30" stroke="#000" stroke-width="1.35" />
<line x1="411.30" y1="470.80" x2="411.30" y2="474.30" stroke="#000" stroke-width="1.35" />
<line x1="434.90" y1="470.80" x2="434.90" y2="474.30" stroke="#000" stroke-width="1.35" />
<text x="320.55" y="480.65" font-size="8.5" fill="#222" text-anchor="end" textLength="16.15" lengthAdjust="spacingAndGlyphs" transform="rotate(-45 320.55 480.65)" >HSC</text>
<text x="343.95" y="480.65" font-size="8.5" fill="#222" text-anchor="end" textLength="16.58" lengthAdjust="spacingAndGlyphs" transform="rotate(-45 343.95 480.65)" >MPP</text>
<text x="367.85" y="480.65" font-size="8.5" fill="#222" text-anchor="end" textLength="20.83" lengthAdjust="spacingAndGlyphs" transform="rotate(-45 367.85 480.65)" >LMPP</text>
<text x="391.35" y="480.65" font-size="8.5" fill="#222" text-anchor="end" textLength="14.46" lengthAdjust="spacingAndGlyphs" transform="rotate(-45 391.35 480.65)" >ELP</text>
<text x="415.15" y="480.65" font-size="8.5" fill="#222" text-anchor="end" textLength="28.91" lengthAdjust="spacingAndGlyphs" transform="rotate(-45 415.15 480.65)" >PreProB</text>
<text x="438.75" y="480.65" font-size="8.5" fill="#222" text-anchor="end" textLength="17.01" lengthAdjust="spacingAndGlyphs" transform="rotate(-45 438.75 480.65)" >ProB</text>
<text x="279.80" y="416.90" font-size="9.5" fill="#222" text-anchor="middle" textLength="100" lengthAdjust="spacingAndGlyphs" transform="rotate(-90 279.80 416.90)" >Colonies per 100 cells plated</text>
<rect x="405.40" y="367.00" width="7.20" height="5.70" fill="#cc2a1e"/>
<text x="415.80" y="372.60" font-size="7.5" fill="#222" textLength="21.6" lengthAdjust="spacingAndGlyphs" >BFU-E</text>
<rect x="405.40" y="378.30" width="7.20" height="5.70" fill="#37287e"/>
<text x="415.80" y="383.90" font-size="7.5" fill="#222" textLength="31.1" lengthAdjust="spacingAndGlyphs" >G/M/GM</text>
<rect x="405.40" y="389.60" width="7.20" height="5.70" fill="#48867f"/>
<text x="415.80" y="395.20" font-size="7.5" fill="#222" textLength="24.5" lengthAdjust="spacingAndGlyphs" >GEMM</text>
<line x1="47.80" y1="534.10" x2="47.80" y2="644.97" stroke="#000" stroke-width="1.35" />
<line x1="45.20" y1="643.90" x2="47.80" y2="643.90" stroke="#000" stroke-width="1.35" />
<text x="42.35" y="646.50" font-size="9.0" fill="#222" text-anchor="end" textLength="20.27" lengthAdjust="spacingAndGlyphs" >0.001</text>
<line x1="45.20" y1="622.46" x2="47.80" y2="622.46" stroke="#000" stroke-width="1.35" />
<text x="42.35" y="625.06" font-size="9.0" fill="#222" text-anchor="end" textLength="15.76" lengthAdjust="spacingAndGlyphs" >0.01</text>
<line x1="45.20" y1="601.02" x2="47.80" y2="601.02" stroke="#000" stroke-width="1.35" />
<text x="42.35" y="603.62" font-size="9.0" fill="#222" text-anchor="end" textLength="11.26" lengthAdjust="spacingAndGlyphs" >0.1</text>
<line x1="45.20" y1="579.58" x2="47.80" y2="579.58" stroke="#000" stroke-width="1.35" />
<text x="42.35" y="582.18" font-size="9.0" fill="#222" text-anchor="end" textLength="4.5" lengthAdjust="spacingAndGlyphs" >1</text>
<line x1="45.20" y1="558.14" x2="47.80" y2="558.14" stroke="#000" stroke-width="1.35" />
<text x="42.35" y="560.74" font-size="9.0" fill="#222" text-anchor="end" textLength="8.47" lengthAdjust="spacingAndGlyphs" >10</text>
<line x1="45.20" y1="536.70" x2="47.80" y2="536.70" stroke="#000" stroke-width="1.35" />
<text x="42.35" y="539.30" font-size="9.0" fill="#222" text-anchor="end" textLength="12.7" lengthAdjust="spacingAndGlyphs" >100</text>
<line x1="46.30" y1="637.45" x2="47.80" y2="637.45" stroke="#000" stroke-width="0.8" />
<line x1="46.30" y1="633.67" x2="47.80" y2="633.67" stroke="#000" stroke-width="0.8" />
<line x1="46.30" y1="630.99" x2="47.80" y2="630.99" stroke="#000" stroke-width="0.8" />
<line x1="46.30" y1="628.91" x2="47.80" y2="628.91" stroke="#000" stroke-width="0.8" />
<line x1="46.30" y1="627.22" x2="47.80" y2="627.22" stroke="#000" stroke-width="0.8" />
<line x1="46.30" y1="625.78" x2="47.80" y2="625.78" stroke="#000" stroke-width="0.8" />
<line x1="46.30" y1="624.54" x2="47.80" y2="624.54" stroke="#000" stroke-width="0.8" />
<line x1="46.30" y1="623.44" x2="47.80" y2="623.44" stroke="#000" stroke-width="0.8" />
<line x1="46.30" y1="616.01" x2="47.80" y2="616.01" stroke="#000" stroke-width="0.8" />
<line x1="46.30" y1="612.23" x2="47.80" y2="612.23" stroke="#000" stroke-width="0.8" />
<line x1="46.30" y1="609.55" x2="47.80" y2="609.55" stroke="#000" stroke-width="0.8" />
<line x1="46.30" y1="607.47" x2="47.80" y2="607.47" stroke="#000" stroke-width="0.8" />
<line x1="46.30" y1="605.78" x2="47.80" y2="605.78" stroke="#000" stroke-width="0.8" />
<line x1="46.30" y1="604.34" x2="47.80" y2="604.34" stroke="#000" stroke-width="0.8" />
<line x1="46.30" y1="603.10" x2="47.80" y2="603.10" stroke="#000" stroke-width="0.8" />
<line x1="46.30" y1="602.00" x2="47.80" y2="602.00" stroke="#000" stroke-width="0.8" />
<line x1="46.30" y1="594.57" x2="47.80" y2="594.57" stroke="#000" stroke-width="0.8" />
<line x1="46.30" y1="590.79" x2="47.80" y2="590.79" stroke="#000" stroke-width="0.8" />
<line x1="46.30" y1="588.11" x2="47.80" y2="588.11" stroke="#000" stroke-width="0.8" />
<line x1="46.30" y1="586.03" x2="47.80" y2="586.03" stroke="#000" stroke-width="0.8" />
<line x1="46.30" y1="584.34" x2="47.80" y2="584.34" stroke="#000" stroke-width="0.8" />
<line x1="46.30" y1="582.90" x2="47.80" y2="582.90" stroke="#000" stroke-width="0.8" />
<line x1="46.30" y1="581.66" x2="47.80" y2="581.66" stroke="#000" stroke-width="0.8" />
<line x1="46.30" y1="580.56" x2="47.80" y2="580.56" stroke="#000" stroke-width="0.8" />
<line x1="46.30" y1="573.13" x2="47.80" y2="573.13" stroke="#000" stroke-width="0.8" />
<line x1="46.30" y1="569.35" x2="47.80" y2="569.35" stroke="#000" stroke-width="0.8" />
<line x1="46.30" y1="566.67" x2="47.80" y2="566.67" stroke="#000" stroke-width="0.8" />
<line x1="46.30" y1="564.59" x2="47.80" y2="564.59" stroke="#000" stroke-width="0.8" />
<line x1="46.30" y1="562.90" x2="47.80" y2="562.90" stroke="#000" stroke-width="0.8" />
<line x1="46.30" y1="561.46" x2="47.80" y2="561.46" stroke="#000" stroke-width="0.8" />
<line x1="46.30" y1="560.22" x2="47.80" y2="560.22" stroke="#000" stroke-width="0.8" />
<line x1="46.30" y1="559.12" x2="47.80" y2="559.12" stroke="#000" stroke-width="0.8" />
<line x1="46.30" y1="551.69" x2="47.80" y2="551.69" stroke="#000" stroke-width="0.8" />
<line x1="46.30" y1="547.91" x2="47.80" y2="547.91" stroke="#000" stroke-width="0.8" />
<line x1="46.30" y1="545.23" x2="47.80" y2="545.23" stroke="#000" stroke-width="0.8" />
<line x1="46.30" y1="543.15" x2="47.80" y2="543.15" stroke="#000" stroke-width="0.8" />
<line x1="46.30" y1="541.46" x2="47.80" y2="541.46" stroke="#000" stroke-width="0.8" />
<line x1="46.30" y1="540.02" x2="47.80" y2="540.02" stroke="#000" stroke-width="0.8" />
<line x1="46.30" y1="538.78" x2="47.80" y2="538.78" stroke="#000" stroke-width="0.8" />
<line x1="46.30" y1="537.68" x2="47.80" y2="537.68" stroke="#000" stroke-width="0.8" />
<line x1="47.12" y1="644.30" x2="205.20" y2="644.30" stroke="#000" stroke-width="1.35" />
<line x1="79.40" y1="644.30" x2="79.40" y2="647.80" stroke="#000" stroke-width="1.35" />
<line x1="126.70" y1="644.30" x2="126.70" y2="647.80" stroke="#000" stroke-width="1.35" />
<line x1="174.00" y1="644.30" x2="174.00" y2="647.80" stroke="#000" stroke-width="1.35" />
<text x="15.70" y="589.00" font-size="9" fill="#222" text-anchor="middle" textLength="38.7" lengthAdjust="spacingAndGlyphs" transform="rotate(-90 15.70 589.00)" >% hCD45+</text>
<circle cx="79.20" cy="541.20" r="1.9" fill="#a80f2a"/>
<circle cx="76.10" cy="549.40" r="1.9" fill="#a80f2a"/>
<circle cx="82.30" cy="550.80" r="1.9" fill="#a80f2a"/>
<circle cx="79.20" cy="560.90" r="1.9" fill="#a80f2a"/>
<line x1="63.90" y1="547.90" x2="94.90" y2="547.90" stroke="#1a1a1a" stroke-width="1.7" />
<line x1="79.40" y1="545.00" x2="79.40" y2="552.50" stroke="#1a1a1a" stroke-width="1.1" />
<line x1="71.40" y1="545.00" x2="87.40" y2="545.00" stroke="#1a1a1a" stroke-width="1.3" />
<line x1="71.40" y1="552.50" x2="87.40" y2="552.50" stroke="#1a1a1a" stroke-width="1.3" />
<circle cx="126.70" cy="588.20" r="1.9" fill="#a80f2a"/>
<circle cx="126.70" cy="602.10" r="1.9" fill="#a80f2a"/>
<circle cx="129.60" cy="622.30" r="1.9" fill="#a80f2a"/>
<circle cx="123.60" cy="626.00" r="1.9" fill="#a80f2a"/>
<line x1="111.20" y1="598.80" x2="142.20" y2="598.80" stroke="#1a1a1a" stroke-width="1.7" />
<line x1="126.70" y1="593.75" x2="126.70" y2="611.00" stroke="#1a1a1a" stroke-width="1.1" />
<line x1="118.70" y1="593.75" x2="134.70" y2="593.75" stroke="#1a1a1a" stroke-width="1.3" />
<line x1="118.70" y1="611.00" x2="134.70" y2="611.00" stroke="#1a1a1a" stroke-width="1.3" />
<circle cx="171.00" cy="606.50" r="1.9" fill="#a80f2a"/>
<circle cx="177.10" cy="612.10" r="1.9" fill="#a80f2a"/>
<circle cx="177.10" cy="633.50" r="1.9" fill="#a80f2a"/>
<circle cx="171.00" cy="638.60" r="1.9" fill="#a80f2a"/>
<line x1="158.50" y1="614.80" x2="189.50" y2="614.80" stroke="#1a1a1a" stroke-width="1.7" />
<line x1="174.00" y1="610.50" x2="174.00" y2="622.50" stroke="#1a1a1a" stroke-width="1.1" />
<line x1="166.00" y1="610.50" x2="182.00" y2="610.50" stroke="#1a1a1a" stroke-width="1.3" />
<line x1="166.00" y1="622.50" x2="182.00" y2="622.50" stroke="#1a1a1a" stroke-width="1.3" />
<text x="82.70" y="653.90" font-size="9" fill="#222" text-anchor="end" textLength="50.48" lengthAdjust="spacingAndGlyphs" transform="rotate(-45 82.70 653.90)" >CD34+19-10-</text>
<text x="130.00" y="653.90" font-size="9" fill="#222" text-anchor="end" textLength="31.63" lengthAdjust="spacingAndGlyphs" transform="rotate(-45 130.00 653.90)" >PreProB</text>
<text x="177.30" y="653.90" font-size="9" fill="#222" text-anchor="end" textLength="18.61" lengthAdjust="spacingAndGlyphs" transform="rotate(-45 177.30 653.90)" >ProB</text>
<rect x="261.60" y="545.00" width="15.60" height="67.10" fill="#999999"/>
<rect x="261.60" y="612.10" width="15.60" height="5.00" fill="#2c7437"/>
<rect x="261.60" y="617.10" width="15.60" height="12.30" fill="#8cb83e"/>
<rect x="261.60" y="629.40" width="15.60" height="12.10" fill="#772a80"/>
<rect x="261.60" y="641.50" width="15.60" height="2.30" fill="#8ecdf2"/>
<line x1="269.40" y1="545.00" x2="269.40" y2="588.70" stroke="#f0dc3c" stroke-width="1.0" />
<line x1="265.40" y1="588.70" x2="273.40" y2="588.70" stroke="#f0dc3c" stroke-width="1.0" />
<line x1="269.40" y1="612.10" x2="269.40" y2="615.60" stroke="#f0dc3c" stroke-width="1.0" />
<line x1="265.40" y1="615.60" x2="273.40" y2="615.60" stroke="#f0dc3c" stroke-width="1.0" />
<line x1="269.40" y1="617.10" x2="269.40" y2="626.50" stroke="#f0dc3c" stroke-width="1.0" />
<line x1="265.40" y1="626.50" x2="273.40" y2="626.50" stroke="#f0dc3c" stroke-width="1.0" />
<line x1="269.40" y1="629.40" x2="269.40" y2="638.30" stroke="#f0dc3c" stroke-width="1.0" />
<line x1="265.40" y1="638.30" x2="273.40" y2="638.30" stroke="#f0dc3c" stroke-width="1.0" />
<line x1="265.40" y1="642.60" x2="273.40" y2="642.60" stroke="#f0dc3c" stroke-width="1.0" />
<line x1="252.80" y1="542.40" x2="252.80" y2="644.47" stroke="#000" stroke-width="1.35" />
<line x1="249.50" y1="643.80" x2="252.80" y2="643.80" stroke="#000" stroke-width="1.35" />
<text x="246.65" y="646.40" font-size="9.0" fill="#222" text-anchor="end" textLength="4.5" lengthAdjust="spacingAndGlyphs" >0</text>
<line x1="249.50" y1="619.18" x2="252.80" y2="619.18" stroke="#000" stroke-width="1.35" />
<text x="246.65" y="621.78" font-size="9.0" fill="#222" text-anchor="end" textLength="4.5" lengthAdjust="spacingAndGlyphs" >2</text>
<line x1="249.50" y1="594.56" x2="252.80" y2="594.56" stroke="#000" stroke-width="1.35" />
<text x="246.65" y="597.16" font-size="9.0" fill="#222" text-anchor="end" textLength="4.5" lengthAdjust="spacingAndGlyphs" >4</text>
<line x1="249.50" y1="569.94" x2="252.80" y2="569.94" stroke="#000" stroke-width="1.35" />
<text x="246.65" y="572.54" font-size="9.0" fill="#222" text-anchor="end" textLength="4.5" lengthAdjust="spacingAndGlyphs" >6</text>
<line x1="249.50" y1="545.32" x2="252.80" y2="545.32" stroke="#000" stroke-width="1.35" />
<text x="246.65" y="547.92" font-size="9.0" fill="#222" text-anchor="end" textLength="4.5" lengthAdjust="spacingAndGlyphs" >8</text>
<line x1="252.12" y1="643.80" x2="285.00" y2="643.80" stroke="#000" stroke-width="1.35" />
<line x1="269.40" y1="643.80" x2="269.40" y2="647.30" stroke="#000" stroke-width="1.35" />
<text x="236.70" y="594.20" font-size="9" fill="#222" text-anchor="middle" textLength="45.8" lengthAdjust="spacingAndGlyphs" transform="rotate(-90 236.70 594.20)" >% of hCD45+</text>
<rect x="323.70" y="546.90" width="16.00" height="5.90" fill="#d9a02a"/>
<rect x="323.70" y="552.80" width="16.00" height="44.10" fill="#37287e"/>
<rect x="323.70" y="596.90" width="16.00" height="21.70" fill="#000"/>
<line x1="331.60" y1="546.90" x2="331.60" y2="550.80" stroke="#f0dc3c" stroke-width="1.0" />
<line x1="327.60" y1="550.80" x2="335.60" y2="550.80" stroke="#f0dc3c" stroke-width="1.0" />
<line x1="331.60" y1="552.80" x2="331.60" y2="566.90" stroke="#f0dc3c" stroke-width="1.0" />
<line x1="327.60" y1="566.90" x2="335.60" y2="566.90" stroke="#f0dc3c" stroke-width="1.0" />
<line x1="331.60" y1="596.90" x2="331.60" y2="608.80" stroke="#f0dc3c" stroke-width="1.0" />
<line x1="327.60" y1="608.80" x2="335.60" y2="608.80" stroke="#f0dc3c" stroke-width="1.0" />
<rect x="353.90" y="550.00" width="16.00" height="0.80" fill="#d9a02a"/>
<rect x="353.90" y="550.80" width="16.00" height="67.80" fill="#000"/>
<line x1="361.80" y1="550.60" x2="361.80" y2="554.40" stroke="#f0dc3c" stroke-width="1.0" />
<line x1="357.80" y1="554.40" x2="365.80" y2="554.40" stroke="#f0dc3c" stroke-width="1.0" />
<rect x="323.70" y="624.20" width="16.00" height="4.90" fill="#000"/>
<rect x="323.70" y="629.10" width="16.00" height="2.50" fill="#d4177d"/>
<rect x="323.70" y="631.60" width="16.00" height="12.30" fill="#c471aa"/>
<line x1="331.60" y1="630.70" x2="331.60" y2="638.50" stroke="#f0dc3c" stroke-width="1.0" />
<line x1="327.60" y1="638.50" x2="335.60" y2="638.50" stroke="#f0dc3c" stroke-width="1.0" />
<line x1="327.60" y1="630.70" x2="335.60" y2="630.70" stroke="#f0dc3c" stroke-width="1.0" />
<rect x="353.90" y="624.20" width="16.00" height="19.70" fill="#000"/>
<line x1="311.80" y1="539.50" x2="311.80" y2="617.30" stroke="#000" stroke-width="1.1" />
<line x1="311.80" y1="625.40" x2="311.80" y2="644.40" stroke="#000" stroke-width="1.1" />
<line x1="308.50" y1="542.00" x2="311.80" y2="542.00" stroke="#000" stroke-width="1.1" />
<text x="305.65" y="544.60" font-size="9.0" fill="#222" text-anchor="end" textLength="12.7" lengthAdjust="spacingAndGlyphs" >100</text>
<line x1="308.50" y1="557.50" x2="311.80" y2="557.50" stroke="#000" stroke-width="1.1" />
<text x="305.65" y="560.10" font-size="9.0" fill="#222" text-anchor="end" textLength="9.01" lengthAdjust="spacingAndGlyphs" >80</text>
<line x1="308.50" y1="573.00" x2="311.80" y2="573.00" stroke="#000" stroke-width="1.1" />
<text x="305.65" y="575.60" font-size="9.0" fill="#222" text-anchor="end" textLength="9.01" lengthAdjust="spacingAndGlyphs" >60</text>
<line x1="308.50" y1="588.40" x2="311.80" y2="588.40" stroke="#000" stroke-width="1.1" />
<text x="305.65" y="591.00" font-size="9.0" fill="#222" text-anchor="end" textLength="9.01" lengthAdjust="spacingAndGlyphs" >40</text>
<line x1="308.50" y1="603.80" x2="311.80" y2="603.80" stroke="#000" stroke-width="1.1" />
<text x="305.65" y="606.40" font-size="9.0" fill="#222" text-anchor="end" textLength="9.01" lengthAdjust="spacingAndGlyphs" >20</text>
<line x1="308.50" y1="623.50" x2="311.80" y2="623.50" stroke="#000" stroke-width="1.1" />
<text x="305.65" y="626.10" font-size="9.0" fill="#222" text-anchor="end" textLength="11.26" lengthAdjust="spacingAndGlyphs" >0.3</text>
<line x1="308.50" y1="643.90" x2="311.80" y2="643.90" stroke="#000" stroke-width="1.1" />
<text x="305.65" y="646.50" font-size="9.0" fill="#222" text-anchor="end" textLength="11.26" lengthAdjust="spacingAndGlyphs" >0.0</text>
<line x1="308.50" y1="616.20" x2="314.80" y2="621.50" stroke="#000" stroke-width="1.0" />
<line x1="308.50" y1="620.80" x2="314.80" y2="626.90" stroke="#000" stroke-width="1.0" />
<line x1="311.12" y1="643.90" x2="377.50" y2="643.90" stroke="#000" stroke-width="1.35" />
<line x1="331.60" y1="643.90" x2="331.60" y2="647.40" stroke="#000" stroke-width="1.35" />
<line x1="361.80" y1="643.90" x2="361.80" y2="647.40" stroke="#000" stroke-width="1.35" />
<rect x="404.50" y="633.30" width="15.60" height="10.80" fill="#2c7437"/>
<line x1="412.30" y1="633.30" x2="412.30" y2="644.10" stroke="#f0dc3c" stroke-width="1.0" />
<line x1="395.40" y1="539.70" x2="395.40" y2="644.77" stroke="#000" stroke-width="1.35" />
<line x1="392.10" y1="644.10" x2="395.40" y2="644.10" stroke="#000" stroke-width="1.35" />
<text x="389.25" y="646.70" font-size="9.0" fill="#222" text-anchor="end" textLength="4.5" lengthAdjust="spacingAndGlyphs" >0</text>
<line x1="392.10" y1="618.62" x2="395.40" y2="618.62" stroke="#000" stroke-width="1.35" />
<text x="389.25" y="621.22" font-size="9.0" fill="#222" text-anchor="end" textLength="4.5" lengthAdjust="spacingAndGlyphs" >2</text>
<line x1="392.10" y1="593.14" x2="395.40" y2="593.14" stroke="#000" stroke-width="1.35" />
<text x="389.25" y="595.74" font-size="9.0" fill="#222" text-anchor="end" textLength="4.5" lengthAdjust="spacingAndGlyphs" >4</text>
<line x1="392.10" y1="567.66" x2="395.40" y2="567.66" stroke="#000" stroke-width="1.35" />
<text x="389.25" y="570.26" font-size="9.0" fill="#222" text-anchor="end" textLength="4.5" lengthAdjust="spacingAndGlyphs" >6</text>
<line x1="392.10" y1="542.18" x2="395.40" y2="542.18" stroke="#000" stroke-width="1.35" />
<text x="389.25" y="544.78" font-size="9.0" fill="#222" text-anchor="end" textLength="4.5" lengthAdjust="spacingAndGlyphs" >8</text>
<line x1="394.72" y1="644.10" x2="427.90" y2="644.10" stroke="#000" stroke-width="1.35" />
<line x1="412.30" y1="644.10" x2="412.30" y2="647.60" stroke="#000" stroke-width="1.35" />
<text x="273.00" y="653.60" font-size="9" fill="#222" text-anchor="end" textLength="50.48" lengthAdjust="spacingAndGlyphs" transform="rotate(-45 273.00 653.60)" >CD34+19-10-</text>
<text x="335.20" y="653.60" font-size="9" fill="#222" text-anchor="end" textLength="50.48" lengthAdjust="spacingAndGlyphs" transform="rotate(-45 335.20 653.60)" >CD34+19-10-</text>
<text x="365.40" y="653.60" font-size="9" fill="#222" text-anchor="end" textLength="31.63" lengthAdjust="spacingAndGlyphs" transform="rotate(-45 365.40 653.60)" >PreProB</text>
<text x="415.90" y="653.60" font-size="9" fill="#222" text-anchor="end" textLength="31.63" lengthAdjust="spacingAndGlyphs" transform="rotate(-45 415.90 653.60)" >PreProB</text>
<line x1="269.5" y1="525.5" x2="269.5" y2="543.6" stroke-dasharray="3.5 2.2" stroke-dashoffset="1.7" fill="none" stroke="#e4b245" stroke-width="1.0"/>
<line x1="269.5" y1="525.5" x2="331.7" y2="525.5" stroke-dasharray="3.5 2.2" stroke-dashoffset="1.7" fill="none" stroke="#e4b245" stroke-width="1.0"/>
<line x1="331.7" y1="525.5" x2="331.7" y2="542.4" stroke-dasharray="3.5 2.2" stroke-dashoffset="1.7" fill="none" stroke="#e4b245" stroke-width="1.0"/>
<line x1="361.6" y1="525.5" x2="361.6" y2="541.8" stroke-dasharray="3.5 2.2" stroke-dashoffset="1.7" fill="none" stroke="#e4b245" stroke-width="1.0"/>
<line x1="361.6" y1="525.5" x2="412.4" y2="525.5" stroke-dasharray="3.5 2.2" stroke-dashoffset="1.7" fill="none" stroke="#e4b245" stroke-width="1.0"/>
<line x1="412.4" y1="525.5" x2="412.4" y2="573.1" stroke-dasharray="3.5 2.2" stroke-dashoffset="1.7" fill="none" stroke="#e4b245" stroke-width="1.0"/>
<rect x="437.30" y="536.40" width="10.00" height="6.00" fill="#d9a02a"/>
<text x="450.80" y="542.30" font-size="7.5" fill="#222" textLength="24.5" lengthAdjust="spacingAndGlyphs" >CD34+</text>
<rect x="437.30" y="546.40" width="10.00" height="6.00" fill="#37287e"/>
<text x="450.80" y="552.30" font-size="7.5" fill="#222" textLength="61.4" lengthAdjust="spacingAndGlyphs" >Myeloid/erythroid</text>
<rect x="437.30" y="556.40" width="10.00" height="6.00" fill="#000"/>
<text x="450.80" y="562.30" font-size="7.5" fill="#222" textLength="18.1" lengthAdjust="spacingAndGlyphs" >B cell</text>
<rect x="437.30" y="566.40" width="10.00" height="6.00" fill="#d4177d"/>
<text x="450.80" y="572.30" font-size="7.5" fill="#222" textLength="18.1" lengthAdjust="spacingAndGlyphs" >T cell</text>
<rect x="437.30" y="576.40" width="10.00" height="6.00" fill="#c471aa"/>
<text x="450.80" y="582.30" font-size="7.5" fill="#222" textLength="24.5" lengthAdjust="spacingAndGlyphs" >NK cell</text>
<rect x="437.30" y="594.90" width="10.00" height="5.80" fill="#2c7437"/>
<text x="450.80" y="600.70" font-size="7.5" fill="#222" textLength="16.1" lengthAdjust="spacingAndGlyphs" >ProB</text>
<rect x="437.30" y="604.75" width="10.00" height="5.80" fill="#8cb83e"/>
<text x="450.80" y="610.55" font-size="7.5" fill="#222" textLength="27.6" lengthAdjust="spacingAndGlyphs" >PreProB</text>
<rect x="437.30" y="614.60" width="10.00" height="5.80" fill="#772a80"/>
<text x="450.80" y="620.40" font-size="7.5" fill="#222" textLength="12.9" lengthAdjust="spacingAndGlyphs" >ELP</text>
<rect x="437.30" y="624.45" width="10.00" height="5.80" fill="#8ecdf2"/>
<text x="450.80" y="630.25" font-size="7.5" fill="#222" textLength="49.2" lengthAdjust="spacingAndGlyphs" >CD34+10+19-</text>
<rect x="437.30" y="634.30" width="10.00" height="5.80" fill="#999999"/>
<text x="450.80" y="640.10" font-size="7.5" fill="#222" textLength="44.9" lengthAdjust="spacingAndGlyphs" >CD34+ other</text>
<rect x="0.5" y="0.5" width="519" height="697" fill="none" stroke="#000" stroke-width="1.2"/>
</svg>
</body></html>
